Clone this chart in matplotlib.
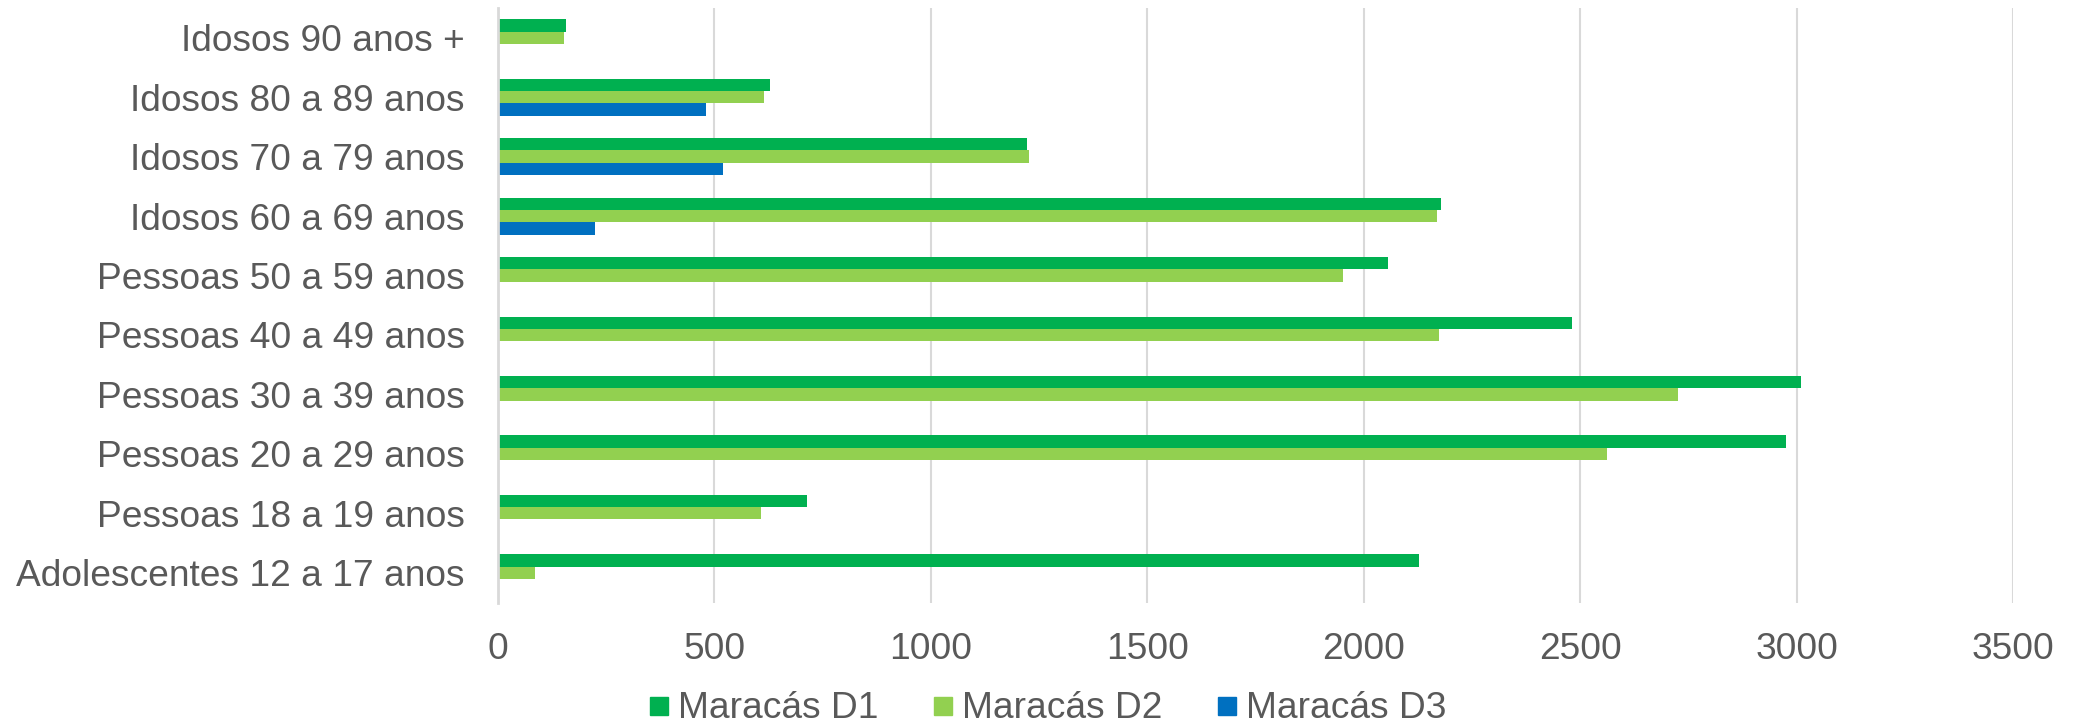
import numpy as np
import matplotlib
matplotlib.use("Agg")
import matplotlib.pyplot as plt
from matplotlib.lines import Line2D

plt.rcParams['font.family'] = ['Liberation Sans', 'DejaVu Sans']

# categorias, de cima para baixo
categorias = ["Idosos 90 anos +", "Idosos 80 a 89 anos", "Idosos 70 a 79 anos",
              "Idosos 60 a 69 anos", "Pessoas 50 a 59 anos", "Pessoas 40 a 49 anos",
              "Pessoas 30 a 39 anos", "Pessoas 20 a 29 anos", "Pessoas 18 a 19 anos",
              "Adolescentes 12 a 17 anos"]
d1 = [156, 628, 1223, 2179, 2057, 2482, 3011, 2976, 713, 2128]
d2 = [153, 615, 1226, 2169, 1952, 2174, 2726, 2563, 608, 86]
d3 = [0, 481, 519, 224, 0, 0, 0, 0, 0, 0]
series = ["Maracás D1", "Maracás D2", "Maracás D3"]
cores = ["#00B050", "#92D050", "#0070C0"]
xticks = [0, 500, 1000, 1500, 2000, 2500, 3000, 3500]

cinza = "#595959"
fs = 26.7
fig = plt.figure(figsize=(20.82, 7.28), dpi=100)
ax = fig.add_axes([498 / 2082, 1 - 602.5 / 728, (2013 - 498) / 2082, (602.5 - 8) / 728])

n = len(categorias)
y = np.arange(n)[::-1]
h = 0.207
for vals, off, cor in zip([d1, d2, d3], [h, 0, -h], cores):
    ax.barh(y + off, vals, height=h, color=cor, zorder=3)

ax.set_xlim(0, 3500)
ax.set_ylim(-0.5, n - 0.5)
ax.set_xticks(xticks)
ax.set_xticklabels([str(t) for t in xticks])
ax.set_yticks(y)
ax.set_yticklabels(categorias)
ax.tick_params(axis='both', length=0, labelsize=fs, labelcolor=cinza)
ax.tick_params(axis='x', pad=21)
ax.tick_params(axis='y', pad=24)
ax.grid(axis='x', color="#D9D9D9", linewidth=1.5, zorder=0)
for s in ["top", "right", "bottom"]:
    ax.spines[s].set_visible(False)
ax.spines["left"].set_color("#D9D9D9")
ax.spines["left"].set_linewidth(2)
ax.spines["left"].set_zorder(4)

handles = [Line2D([], [], marker='s', linestyle='none', markersize=13.5,
                  markerfacecolor=c, markeredgecolor=c) for c in cores]
fig.legend(handles, series, loc='center', bbox_to_anchor=(1047 / 2082, 1 - 709 / 728),
           ncol=3, frameon=False, fontsize=fs, labelcolor=cinza,
           handlelength=0.6, handletextpad=0.2, columnspacing=1.45, borderpad=0)

fig.savefig("out.png", dpi=100)
